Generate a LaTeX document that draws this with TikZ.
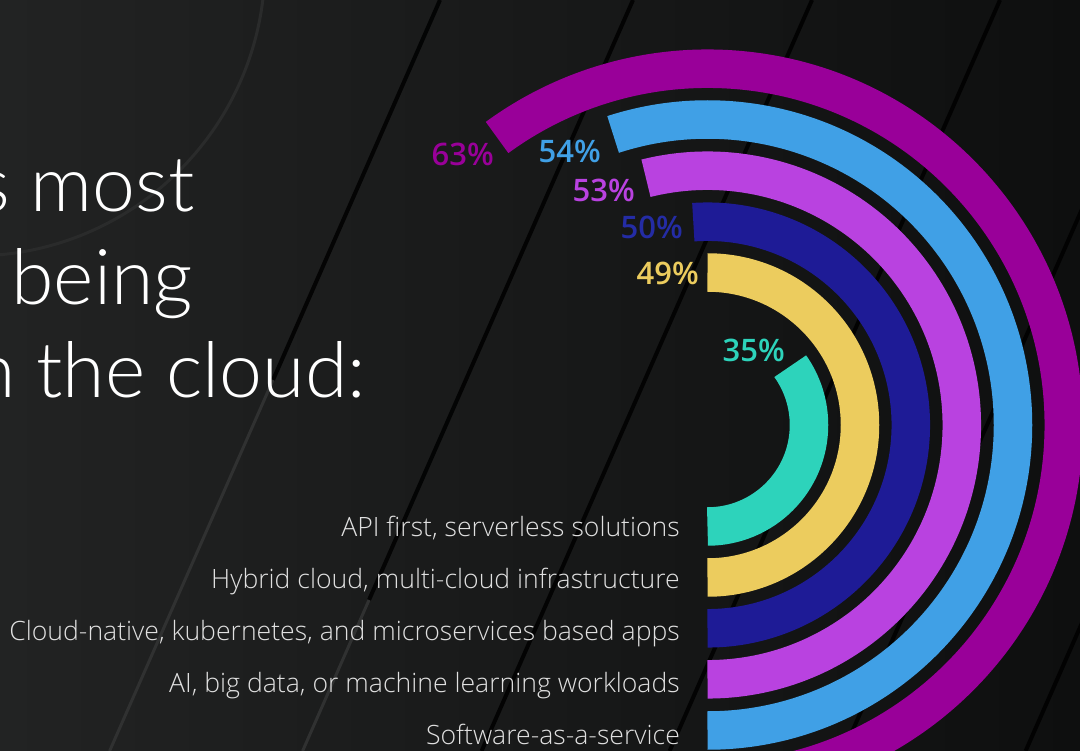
\documentclass[tikz,border=0pt]{standalone}
\usepackage{fontspec}
\IfFontExistsTF{Lato Light}{\newfontfamily\titlefont{Lato Light}}{\newfontfamily\titlefont{Lato}}
\IfFontExistsTF{Open Sans Light}{\newfontfamily\labelfont{Open Sans Light}}{\newfontfamily\labelfont{Open Sans}}
\IfFontExistsTF{Open Sans SemiBold}{\newfontfamily\pctfont{Open Sans SemiBold}}{%
  \IfFontExistsTF{Open Sans Semibold}{\newfontfamily\pctfont{Open Sans Semibold}}{\newfontfamily\pctfont{Open Sans}}}
\definecolor{bgL}{RGB}{34,35,35}
\definecolor{bgR}{RGB}{14,15,15}
\definecolor{cMag}{RGB}{153,0,153}
\definecolor{cLB}{RGB}{64,160,230}
\definecolor{cPur}{RGB}{185,66,224}
\definecolor{cDB}{RGB}{30,27,150}
\definecolor{cDBtxt}{RGB}{36,44,165}
\definecolor{cYel}{RGB}{236,204,94}
\definecolor{cTeal}{RGB}{45,211,187}
\definecolor{cLabel}{RGB}{224,224,224}
\definecolor{cStreak}{RGB}{48,49,49}
\definecolor{cRing}{RGB}{42,43,43}
\tikzset{
  ring/.style={line width=38.5pt, line cap=butt},
  pct/.style={font=\pctfont\fontsize{31}{31}\selectfont, inner sep=0pt, anchor=base east},
  catlabel/.style={font=\labelfont\fontsize{26.6}{26.6}\selectfont, text=cLabel, inner sep=0pt, anchor=base east},
  titletext/.style={font=\titlefont\fontsize{77}{93}\selectfont, text=white, inner sep=0pt, anchor=base east},
  darkline/.style={line width=4pt, black, opacity=0.85},
  lightline/.style={line width=3pt, cStreak}
}
\begin{document}
\begin{tikzpicture}[x=1pt,y=-1pt]
\useasboundingbox (0,0) rectangle (1080,751);
\clip (0,0) rectangle (1080,751);
% background
\shade[left color=bgL, right color=bgR] (0,0) rectangle (1080,751);
% faint circle
\draw[cRing, line width=3pt] (-27,-36) circle[radius=292];
% diagonal streaks
\draw[darkline] (440,0) -- (273,380);
\draw[lightline] (273,380) -- (109.6,751);
\draw[darkline] (633,0) -- (369,600);
\draw[lightline] (369,600) -- (302.6,751);
\draw[darkline] (812,0) -- (481.6,751);
\draw[darkline] (1000,0) -- (669.6,751);
\draw[darkline] (1174,0) -- (843.6,751);
\draw[darkline] (1356,0) -- (1025.6,751);
% rings
\coordinate (ctr) at (707.5,425);
\draw[ring, cTeal] (ctr) ++(0,101.5) arc[start angle=90, end angle=-35.4, radius=101.5];
\draw[ring, cYel]  (ctr) ++(0,152.5) arc[start angle=90, end angle=-90, radius=152.5];
\draw[ring, cDB]   (ctr) ++(0,203.3) arc[start angle=90, end angle=-94, radius=203.3];
\draw[ring, cPur]  (ctr) ++(0,254.3) arc[start angle=90, end angle=-104, radius=254.3];
\draw[ring, cLB]   (ctr) ++(0,305.5) arc[start angle=90, end angle=-108, radius=305.5];
\draw[ring, cMag]  (ctr) ++(0,356.3) arc[start angle=90, end angle=-126.2, radius=356.3];
% percentages
\node[pct, text=cMag]   (p63) at (494,166) {63\%};
\node[pct, text=cLB]    (p54) at (601,163) {54\%};
\node[pct, text=cPur]   (p53) at (635,201.5) {53\%};
\node[pct, text=cDBtxt] (p50) at (683,239) {50\%};
\node[pct, text=cYel]   (p49) at (699,285) {49\%};
\node[pct, text=cTeal]  (p35) at (785,362) {35\%};
% category labels
\node[catlabel] (l1) at (680,536) {API first, serverless solutions};
\node[catlabel] (l2) at (680,588) {Hybrid cloud, multi-cloud infrastructure};
\node[catlabel] (l3) at (680,640) {Cloud-native, kubernetes, and microservices based apps};
\node[catlabel] (l4) at (680,692) {AI, big data, or machine learning workloads};
\node[catlabel] (l5) at (680,744) {Software-as-a-service};
% title
\node[titletext] (t1) at (195,212) {s most};
\node[titletext] (t2) at (193,305) {being};
\node[titletext] (t3) at (366,398) {n the cloud:};
\end{tikzpicture}
\end{document}
